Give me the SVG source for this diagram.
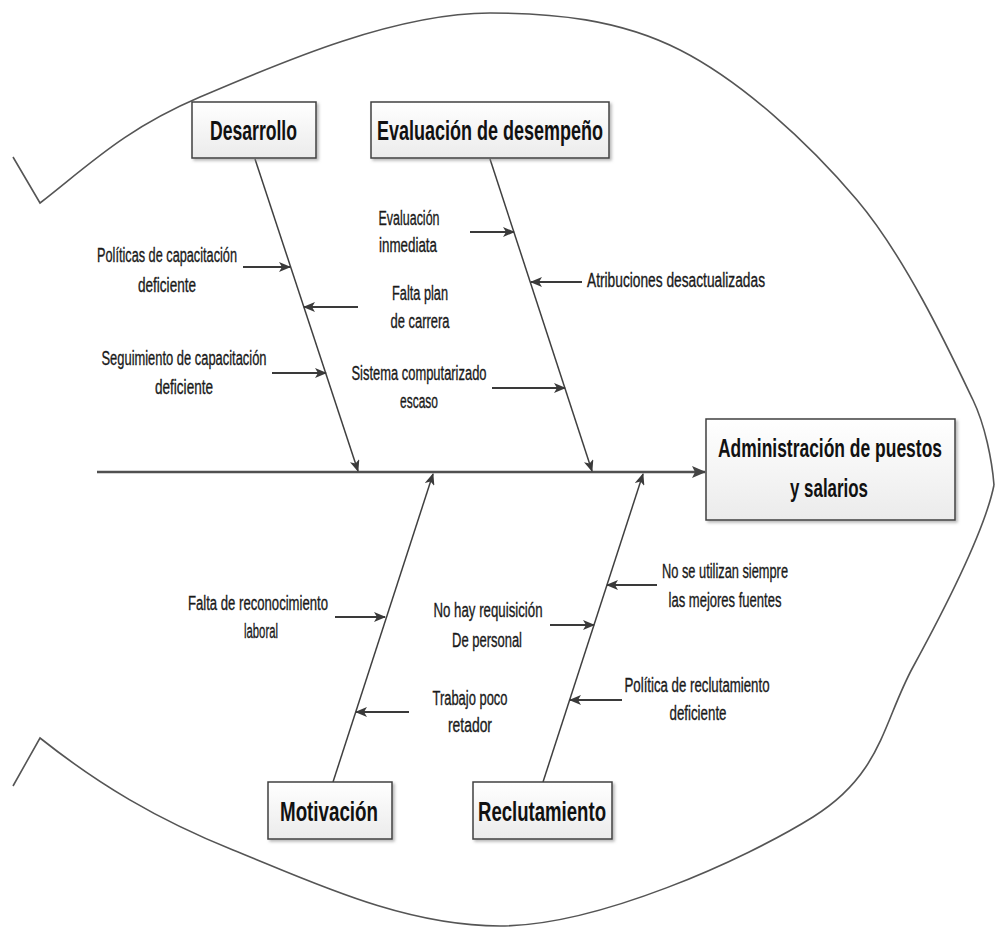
<svg xmlns="http://www.w3.org/2000/svg" width="995" height="929" viewBox="0 0 995 929">
  <defs>
    <linearGradient id="boxFill" x1="0" y1="0" x2="0" y2="1">
      <stop offset="0" stop-color="#ffffff"/>
      <stop offset="1" stop-color="#ebebeb"/>
    </linearGradient>
    <filter id="shadow" x="-10%" y="-10%" width="130%" height="140%">
      <feDropShadow dx="2" dy="2" stdDeviation="1.5" flood-color="#888888" flood-opacity="0.6"/>
    </filter>
    <marker id="arrow" markerUnits="userSpaceOnUse" markerWidth="12" markerHeight="10" viewBox="0 0 12 10" refX="11" refY="5" orient="auto">
      <path d="M0,0 L12,5 L0,10 L3,5 Z" fill="#3a3a3a"/>
    </marker>
    <marker id="arrowBig" markerUnits="userSpaceOnUse" markerWidth="14" markerHeight="12" viewBox="0 0 14 12" refX="13" refY="6" orient="auto">
      <path d="M0,0 L14,6 L0,12 L3,6 Z" fill="#444444"/>
    </marker>
  </defs>
  <style>
    .outline { fill: none; stroke: #555555; stroke-width: 1.6; }
    .box { fill: url(#boxFill); stroke: #404040; stroke-width: 1.5; filter: url(#shadow); }
    .title { font-family: "Liberation Sans Narrow", "Liberation Sans", Arial, sans-serif; font-weight: bold; fill: #111111; text-anchor: middle; }
    .cause { font-family: "Liberation Sans Narrow", "Liberation Sans", Arial, sans-serif; font-size: 20px; fill: #1a1a1a; stroke: #1a1a1a; stroke-width: 0.35; text-anchor: middle; }
    .bone { stroke: #404040; stroke-width: 1.5; fill: none; }
    .spine { stroke: #505050; stroke-width: 2.5; fill: none; }
    .small { stroke: #3a3a3a; stroke-width: 2; fill: none; }
  </style>
  <rect width="995" height="929" fill="#ffffff"/>

  <!-- Fish outline -->
  <g id="fish-outline">
    <path class="outline" d="M13,157 L40,203 C90,164 125,129 200,97 C275,65 393,13 490,13 C553,13 619,19 680,50 C741,81 808,142 857,200 C906,258 950,352 973,400 C985,425 992,460 994,485"/>
    <path class="outline" d="M13,786 L40,738 C98,784 156,819 233,850 C310,881 403,926 500,926 C597,926 744,860 813,817 C882,774 883,722 913,667 C943,612 985,530 994,485"/>
  </g>

  <!-- Connectors -->
  <g id="connectors">
    <line class="spine" x1="97" y1="472" x2="705" y2="472" marker-end="url(#arrowBig)"/>
    <line class="bone" x1="255" y1="159" x2="358" y2="471" marker-end="url(#arrow)"/>
    <line class="bone" x1="490" y1="159" x2="592" y2="471" marker-end="url(#arrow)"/>
    <line class="bone" x1="333" y1="782" x2="433" y2="474" marker-end="url(#arrow)"/>
    <line class="bone" x1="543" y1="782" x2="643" y2="474" marker-end="url(#arrow)"/>

    <line class="small" x1="243" y1="267" x2="290" y2="267" marker-end="url(#arrow)"/>
    <line class="small" x1="358" y1="307" x2="304" y2="307" marker-end="url(#arrow)"/>
    <line class="small" x1="272" y1="373" x2="326" y2="373" marker-end="url(#arrow)"/>
    <line class="small" x1="470" y1="232" x2="514" y2="232" marker-end="url(#arrow)"/>
    <line class="small" x1="582" y1="282" x2="531" y2="282" marker-end="url(#arrow)"/>
    <line class="small" x1="492" y1="388" x2="565" y2="388" marker-end="url(#arrow)"/>
    <line class="small" x1="335" y1="617" x2="385" y2="617" marker-end="url(#arrow)"/>
    <line class="small" x1="409" y1="712" x2="356" y2="712" marker-end="url(#arrow)"/>
    <line class="small" x1="657" y1="585" x2="607" y2="585" marker-end="url(#arrow)"/>
    <line class="small" x1="550" y1="625" x2="594" y2="625" marker-end="url(#arrow)"/>
    <line class="small" x1="622" y1="700" x2="570" y2="700" marker-end="url(#arrow)"/>
  </g>

  <!-- Category boxes -->
  <g id="desarrollo">
    <rect class="box" x="192" y="102" width="124" height="56"/>
    <text class="title" x="253.5" y="140" font-size="27" textLength="87" lengthAdjust="spacingAndGlyphs">Desarrollo</text>
  </g>
  <g id="evaluacion">
    <rect class="box" x="371" y="102" width="238" height="56"/>
    <text class="title" x="490" y="140" font-size="27" textLength="226" lengthAdjust="spacingAndGlyphs">Evaluación de desempeño</text>
  </g>
  <g id="motivacion">
    <rect class="box" x="268" y="782" width="124" height="57"/>
    <text class="title" x="329" y="821" font-size="27" textLength="98" lengthAdjust="spacingAndGlyphs">Motivación</text>
  </g>
  <g id="reclutamiento">
    <rect class="box" x="473" y="782" width="139" height="57"/>
    <text class="title" x="542" y="821" font-size="27" textLength="128" lengthAdjust="spacingAndGlyphs">Reclutamiento</text>
  </g>
  <g id="efecto">
    <rect class="box" x="706" y="419" width="249" height="101"/>
    <text class="title" x="830" y="457" font-size="26" textLength="224" lengthAdjust="spacingAndGlyphs">Administración de puestos</text>
    <text class="title" x="829" y="497" font-size="26" textLength="78" lengthAdjust="spacingAndGlyphs">y salarios</text>
  </g>

  <!-- Causes -->
  <g id="c-politicas-capacitacion">
    <text class="cause" x="167" y="262" textLength="140" lengthAdjust="spacingAndGlyphs">Políticas de capacitación</text>
    <text class="cause" x="167" y="292" textLength="58" lengthAdjust="spacingAndGlyphs">deficiente</text>
  </g>
  <g id="c-falta-plan">
    <text class="cause" x="420" y="300" textLength="56" lengthAdjust="spacingAndGlyphs">Falta plan</text>
    <text class="cause" x="420" y="328" textLength="59" lengthAdjust="spacingAndGlyphs">de carrera</text>
  </g>
  <g id="c-seguimiento">
    <text class="cause" x="184" y="365" textLength="165" lengthAdjust="spacingAndGlyphs">Seguimiento de capacitación</text>
    <text class="cause" x="184" y="394" textLength="58" lengthAdjust="spacingAndGlyphs">deficiente</text>
  </g>
  <g id="c-evaluacion-inmediata">
    <text class="cause" x="409" y="225" textLength="61" lengthAdjust="spacingAndGlyphs">Evaluación</text>
    <text class="cause" x="408" y="252" textLength="58" lengthAdjust="spacingAndGlyphs">inmediata</text>
  </g>
  <g id="c-atribuciones">
    <text class="cause" x="676" y="287" textLength="178" lengthAdjust="spacingAndGlyphs">Atribuciones desactualizadas</text>
  </g>
  <g id="c-sistema">
    <text class="cause" x="419" y="380" textLength="135" lengthAdjust="spacingAndGlyphs">Sistema computarizado</text>
    <text class="cause" x="419" y="408" textLength="38" lengthAdjust="spacingAndGlyphs">escaso</text>
  </g>
  <g id="c-reconocimiento">
    <text class="cause" x="258" y="610" textLength="140" lengthAdjust="spacingAndGlyphs">Falta de reconocimiento</text>
    <text class="cause" x="261" y="638" textLength="34" lengthAdjust="spacingAndGlyphs">laboral</text>
  </g>
  <g id="c-trabajo">
    <text class="cause" x="470" y="705" textLength="75" lengthAdjust="spacingAndGlyphs">Trabajo poco</text>
    <text class="cause" x="470" y="732" textLength="44" lengthAdjust="spacingAndGlyphs">retador</text>
  </g>
  <g id="c-requisicion">
    <text class="cause" x="488" y="617" textLength="109" lengthAdjust="spacingAndGlyphs">No hay requisición</text>
    <text class="cause" x="487" y="647" textLength="70" lengthAdjust="spacingAndGlyphs">De personal</text>
  </g>
  <g id="c-fuentes">
    <text class="cause" x="725" y="578" textLength="126" lengthAdjust="spacingAndGlyphs">No se utilizan siempre</text>
    <text class="cause" x="725" y="607" textLength="113" lengthAdjust="spacingAndGlyphs">las mejores fuentes</text>
  </g>
  <g id="c-politica-reclutamiento">
    <text class="cause" x="697" y="692" textLength="145" lengthAdjust="spacingAndGlyphs">Política de reclutamiento</text>
    <text class="cause" x="698" y="720" textLength="57" lengthAdjust="spacingAndGlyphs">deficiente</text>
  </g>
</svg>
